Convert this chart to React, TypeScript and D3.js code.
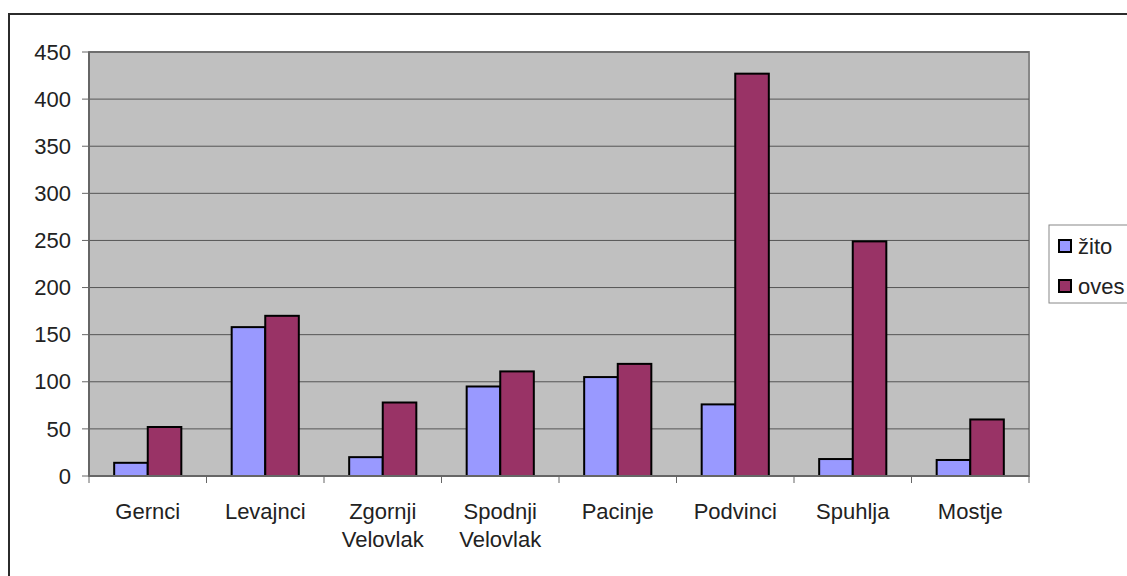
import * as d3 from "d3";

const categories = [
  ["Gernci"],
  ["Levajnci"],
  ["Zgornji", "Velovlak"],
  ["Spodnji", "Velovlak"],
  ["Pacinje"],
  ["Podvinci"],
  ["Spuhlja"],
  ["Mostje"],
];
const series = ["žito", "oves"];
const zito = [14, 158, 20, 95, 105, 76, 18, 17];
const oves = [52, 170, 78, 111, 119, 427, 249, 60];
const colors = ["#9999FF", "#993366"];
const yTicks = [0, 50, 100, 150, 200, 250, 300, 350, 400, 450];

export default function App() {
  const width = 1127;
  const height = 576;
  const left = 89;
  const right = 1029;
  const top = 52;
  const bottom = 476;

  const x = d3.scaleBand<number>().domain(d3.range(categories.length)).range([left, right]);
  // excel gap width 150%
  const bw = x.bandwidth() / 3.5;
  const y = d3.scaleLinear().domain([0, 450]).range([bottom, top]);
  const values = [zito, oves];
  const font = "'Liberation Sans', Arial, sans-serif";
  const fs = 22;

  return (
    <svg width={width} height={height} style={{ position: "absolute", left: 0, top: 0 }} fontFamily={font}>
      <rect x={0} y={0} width={width} height={height} fill="#fff" />
      <rect x={9} y={14} width={width + 20} height={height + 20} fill="none" stroke="#2b2b2b" strokeWidth={2} />

      <rect x={left} y={top} width={right - left} height={bottom - top} fill="#C0C0C0" stroke="#888" strokeWidth={2} />
      {yTicks.map((t) => (
        <g key={t}>
          {t > 0 && <line x1={left} x2={right} y1={y(t)} y2={y(t)} stroke="#555" strokeWidth={1} />}
          <line x1={82} x2={left} y1={y(t)} y2={y(t)} stroke="#666" />
          <text x={71} y={y(t)} dy="0.35em" textAnchor="end" fontSize={fs} fill="#222">
            {t}
          </text>
        </g>
      ))}

      {categories.map((c, i) => (
        <g key={i}>
          {values.map((v, s) => (
            <rect
              key={s}
              x={x(i)! + bw * 0.75 + s * bw}
              y={y(v[i])}
              width={bw}
              height={y(0) - y(v[i])}
              fill={colors[s]}
              stroke="#000"
              strokeWidth={2}
            />
          ))}
          <text x={x(i)! + x.bandwidth() / 2} y={519} textAnchor="middle" fontSize={fs} fill="#222">
            {c.map((l, k) => (
              <tspan key={k} x={x(i)! + x.bandwidth() / 2} dy={k === 0 ? 0 : 28}>
                {l}
              </tspan>
            ))}
          </text>
        </g>
      ))}

      <line x1={left} x2={right} y1={bottom} y2={bottom} stroke="#666" strokeWidth={2} />
      <line x1={left} x2={left} y1={top} y2={bottom} stroke="#666" strokeWidth={2} />
      {d3.range(categories.length + 1).map((i) => {
        const xx = i < categories.length ? x(i)! : right;
        return <line key={i} x1={xx} x2={xx} y1={bottom} y2={bottom + 7} stroke="#666" />;
      })}

      <rect x={1049} y={225} width={100} height={78} fill="#fff" stroke="#888" strokeWidth={1} />
      {series.map((s, k) => (
        <g key={s}>
          <rect x={1059} y={240 + k * 40} width={12} height={12} fill={colors[k]} stroke="#000" strokeWidth={2} />
          <text x={1078} y={246 + k * 40} dy="0.35em" fontSize={fs} fill="#222">
            {s}
          </text>
        </g>
      ))}
    </svg>
  );
}
